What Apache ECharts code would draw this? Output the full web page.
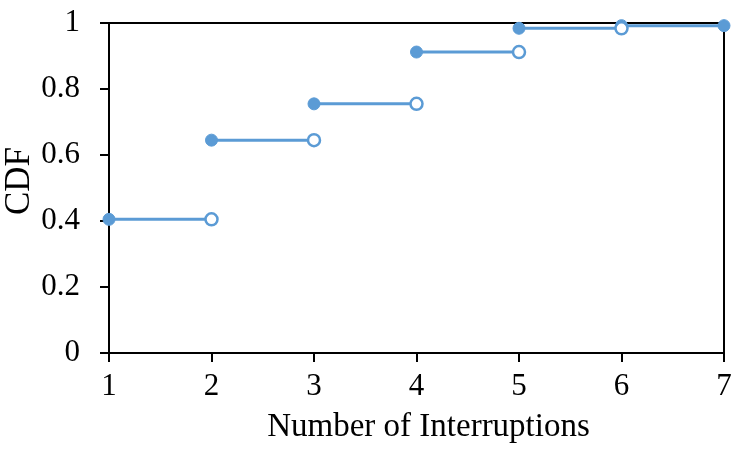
<!DOCTYPE html>
<html><head><meta charset="utf-8">
<script src="https://cdn.jsdelivr.net/npm/echarts@6/dist/echarts.min.js"></script>
<style>html,body{margin:0;padding:0;background:#fff}#c{width:754px;height:450px}</style>
</head><body><div id="c"></div>
<script>
// Step starts (number of interruptions) and CDF values
var stepStarts = [1, 2, 3, 4, 5, 6];
var stepEnds = [2, 3, 4, 5, 6, 7];
var cdfValues = [0.405, 0.645, 0.755, 0.912, 0.984, 0.992];
var endFilled = [false, false, false, false, false, true];
var xTicks = [1, 2, 3, 4, 5, 6, 7];
var yTicks = [0, 0.2, 0.4, 0.6, 0.8, 1];

var blue = '#5B9BD5';
var series = stepStarts.map(function (s, i) {
  return {
    type: 'line',
    symbol: 'circle',
    symbolSize: 12,
    lineStyle: { color: blue, width: 3 },
    itemStyle: { color: blue },
    z: 10 - i,
    data: [
      { value: [s, cdfValues[i]], itemStyle: { color: blue, borderColor: blue, borderWidth: 1 } },
      { value: [stepEnds[i], cdfValues[i]], itemStyle: endFilled[i] ? { color: blue, borderColor: blue, borderWidth: 1 } : { color: '#fff', borderColor: blue, borderWidth: 2.5 } }
    ]
  };
});

var font = 'Liberation Serif';
var chart = echarts.init(document.getElementById('c'));
chart.setOption({
  animation: false,
  grid: { left: 109, right: 30, top: 23, bottom: 97, show: true, borderColor: '#000', borderWidth: 2, backgroundColor: 'transparent', containLabel: false, outerBoundsMode: 'none' },
  xAxis: {
    type: 'value', min: xTicks[0], max: xTicks[xTicks.length - 1], interval: 1,
    name: 'Number of Interruptions', nameLocation: 'middle', nameGap: 58, nameMoveOverlap: false,
    nameTextStyle: { fontFamily: font, fontSize: 33, color: '#000', padding: [0, 0, 0, 24] },
    axisLine: { lineStyle: { color: '#000', width: 2 } },
    axisTick: { show: true, length: 9, lineStyle: { color: '#000', width: 2 } },
    axisLabel: { fontFamily: font, fontSize: 31, color: '#000', margin: 18 },
    splitLine: { show: false }
  },
  yAxis: {
    type: 'value', min: 0, max: 1, interval: 0.2,
    name: 'CDF', nameLocation: 'middle', nameGap: 72, nameRotate: 90, nameMoveOverlap: false,
    nameTextStyle: { fontFamily: font, fontSize: 35, color: '#000', padding: [0, 0, 0, 14] },
    axisLine: { show: true, lineStyle: { color: '#000', width: 2 } },
    axisTick: { show: true, length: 9, lineStyle: { color: '#000', width: 2 } },
    axisLabel: { fontFamily: font, fontSize: 31, color: '#000', margin: 29,
      formatter: function (v) { return String(Math.round(v * 10) / 10); } },
    splitLine: { show: false }
  },
  series: series
});
</script></body></html>
